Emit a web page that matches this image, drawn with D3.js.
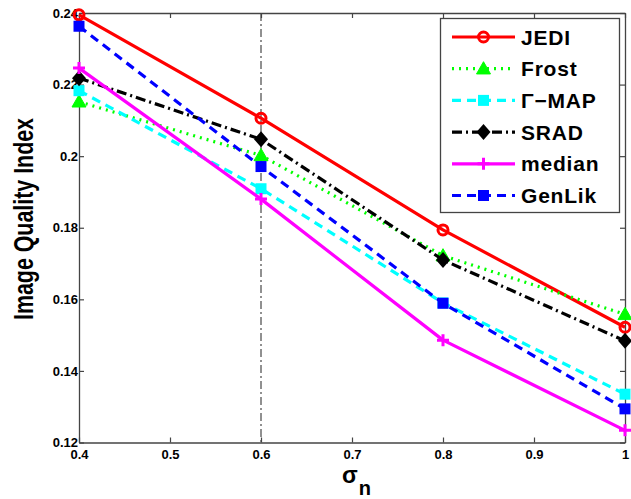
<!DOCTYPE html>
<html><head><meta charset="utf-8">
<script src="https://cdn.jsdelivr.net/npm/d3@7"></script>
<style>body{margin:0;background:#fff}svg{display:block}</style>
</head><body>
<svg id="c" width="631" height="499"></svg>
<script>
const xValues = [0.4, 0.6, 0.8, 1.0];
const seriesNames = ["JEDI", "Frost", "Γ−MAP", "SRAD", "median", "GenLik"];
const jedi   = [0.2395, 0.2106, 0.1794, 0.1522];
const frost  = [0.2152, 0.2002, 0.1722, 0.1558];
const gmap   = [0.2183, 0.1909, 0.1590, 0.1335];
const srad   = [0.2218, 0.2047, 0.1710, 0.1484];
const median = [0.2246, 0.1880, 0.1486, 0.1234];
const genlik = [0.2363, 0.1971, 0.1589, 0.1294];
const xTicks = [0.4, 0.5, 0.6, 0.7, 0.8, 0.9, 1];
const yTicks = [0.12, 0.14, 0.16, 0.18, 0.2, 0.22, 0.24];

const styles = [
  {c:"#ff0000", dash:null, m:"circle"},
  {c:"#00ff00", dash:"2,5", m:"triangle"},
  {c:"#00ffff", dash:"9,6", m:"square"},
  {c:"#000000", dash:"10,4,2,4", m:"diamond"},
  {c:"#ff00ff", dash:null, m:"plus"},
  {c:"#0000ff", dash:"9,6", m:"square"}
];
const data = [jedi, frost, gmap, srad, median, genlik];

const svg = d3.select("#c");
const L=79, R=625, T=13, B=442.5;
const x = d3.scaleLinear().domain([0.4,1]).range([L,R]);
const y = d3.scaleLinear().domain([0.12,0.24]).range([B,T]);
const font = "'Liberation Sans', Arial, Helvetica, sans-serif";

// vertical dash-dot line at 0.6
svg.append("line").attr("x1",x(0.6)).attr("x2",x(0.6)).attr("y1",T).attr("y2",B)
  .attr("stroke","#222").attr("stroke-width",1).attr("stroke-dasharray","8,3,2,3");

// axes
const axCol="#444";
const gB = svg.append("g").attr("transform",`translate(0,${B})`)
  .call(d3.axisBottom(x).tickValues(xTicks).tickFormat(d=>d===1?"1":d3.format(".1f")(d)).tickSizeInner(-5).tickSizeOuter(0).tickPadding(6));
const gT = svg.append("g").attr("transform",`translate(0,${T})`)
  .call(d3.axisTop(x).tickValues(xTicks).tickFormat("").tickSizeInner(-5).tickSizeOuter(0));
const gL = svg.append("g").attr("transform",`translate(${L},0)`)
  .call(d3.axisLeft(y).tickValues(yTicks).tickFormat(d=>d===0.2?"0.2":d3.format(".2f")(d)).tickSizeInner(-5).tickSizeOuter(0).tickPadding(3));
const gR = svg.append("g").attr("transform",`translate(${R},0)`)
  .call(d3.axisRight(y).tickValues(yTicks).tickFormat("").tickSizeInner(-5).tickSizeOuter(0));
[gB,gT,gL,gR].forEach(g=>{
  g.select(".domain").attr("stroke",axCol).attr("stroke-width",1.3);
  g.selectAll(".tick line").attr("stroke",axCol).attr("stroke-width",1.2);
  g.selectAll("text").attr("font-family",font).attr("font-size",13).attr("font-weight","bold").attr("fill","#000");
});
gB.selectAll("text").attr("dy","0.8em");
gL.selectAll("text").attr("dx","2");

function marker(g, type, cx, cy, col){
  if(type==="circle"){
    g.append("circle").attr("cx",cx).attr("cy",cy).attr("r",5).attr("fill","none").attr("stroke",col).attr("stroke-width",3);
  } else if(type==="triangle"){
    const s=7;
    g.append("path").attr("d",`M${cx},${cy-s}L${cx+s},${cy+s*0.75}L${cx-s},${cy+s*0.75}Z`).attr("fill",col).attr("stroke",col).attr("stroke-width",1);
  } else if(type==="square"){
    g.append("rect").attr("x",cx-5.5).attr("y",cy-5.5).attr("width",11).attr("height",11).attr("fill",col);
  } else if(type==="diamond"){
    g.append("path").attr("d",`M${cx},${cy-8}L${cx+7},${cy}L${cx},${cy+8}L${cx-7},${cy}Z`).attr("fill",col);
  } else if(type==="plus"){
    g.append("path").attr("d",`M${cx-6},${cy}H${cx+6}M${cx},${cy-6}V${cy+6}`).attr("stroke",col).attr("stroke-width",3);
  }
}

const line = d3.line().x((d,i)=>x(xValues[i])).y(d=>y(d));
data.forEach((vals,k)=>{
  const st=styles[k];
  const g=svg.append("g");
  g.append("path").attr("d",line(vals)).attr("fill","none").attr("stroke",st.c).attr("stroke-width",3.2)
    .attr("stroke-dasharray",st.dash).attr("stroke-linejoin","round");
  vals.forEach((v,i)=>marker(g,st.m,x(xValues[i]),y(v),st.c));
});

// legend
const lg = svg.append("g");
lg.append("rect").attr("x",440.5).attr("y",18.5).attr("width",179).attr("height",194)
  .attr("fill","#fff").attr("stroke","#444").attr("stroke-width",1.3);
const rowY = d3.scalePoint().domain(seriesNames).range([37,195.5]);
seriesNames.forEach((n,k)=>{
  const st=styles[k], yy=rowY(n);
  lg.append("line").attr("x1",452).attr("x2",515).attr("y1",yy).attr("y2",yy)
    .attr("stroke",st.c).attr("stroke-width",3.2).attr("stroke-dasharray",st.dash);
  marker(lg,st.m,483.5,yy,st.c);
  lg.append("text").attr("x",521).attr("y",yy).attr("dy","0.36em").text(n)
    .attr("font-family",font).attr("font-size",21).attr("font-weight","bold")
    .attr("letter-spacing",0.8).attr("fill","#000");
});

// axis labels
svg.append("text").attr("transform","translate(33,219) rotate(-90)").attr("text-anchor","middle")
  .attr("font-family",font).attr("font-size",27).attr("font-weight","bold")
  .attr("textLength",202).attr("lengthAdjust","spacingAndGlyphs")
  .attr("fill","#000").text("Image Quality Index");
const xl = svg.append("text").attr("x",342).attr("y",483)
  .attr("font-family",font).attr("font-size",23).attr("font-weight","bold").attr("fill","#000");
xl.append("tspan").text("σ");
xl.append("tspan").attr("font-size",20).attr("dy",12).attr("dx",1).text("n");
</script>
</body></html>
